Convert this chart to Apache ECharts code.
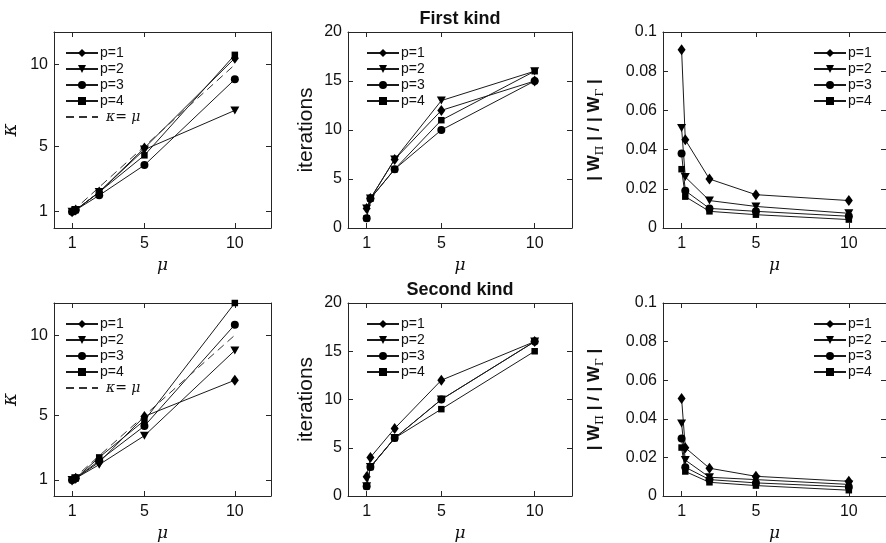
<!DOCTYPE html>
<html><head><meta charset="utf-8">
<script src="https://cdn.jsdelivr.net/npm/echarts@6/dist/echarts.min.js"></script>
<style>html,body{margin:0;padding:0;background:#fff}#c{width:886px;height:543px}</style>
</head><body><div id="c"></div><script>
// ---- data ----
const mu = [1, 1.2, 2.5, 5, 10];
const pNames = ['p=1', 'p=2', 'p=3', 'p=4'];
const refName = 'κ= μ';
const muTicks = [1, 5, 10];
const kappaTicks = [1, 5, 10];
const titles = ['First kind', 'Second kind'];

// First kind
const kappaFirst_p1 = [1, 1.1, 2.2, 4.9, 10.4];
const kappaFirst_p2 = [1, 1.1, 2.2, 4.8, 7.2];
const kappaFirst_p3 = [1, 1.1, 2.0, 3.85, 9.1];
const kappaFirst_p4 = [1, 1.1, 2.2, 4.45, 10.6];
const iterFirst_p1 = [2, 3, 7, 12, 15];
const iterFirst_p2 = [2, 3, 7, 13, 16];
const iterFirst_p3 = [1, 3, 6, 10, 15];
const iterFirst_p4 = [1, 3, 6, 11, 16];
const ratioFirst_p1 = [0.091, 0.045, 0.025, 0.017, 0.014];
const ratioFirst_p2 = [0.051, 0.026, 0.014, 0.011, 0.0075];
const ratioFirst_p3 = [0.038, 0.019, 0.010, 0.0085, 0.006];
const ratioFirst_p4 = [0.030, 0.016, 0.0085, 0.0068, 0.0043];

// Second kind
const kappaSecond_p1 = [1, 1.1, 2.1, 4.95, 7.2];
const kappaSecond_p2 = [1, 1.1, 1.95, 3.75, 9.05];
const kappaSecond_p3 = [1, 1.1, 2.2, 4.35, 10.65];
const kappaSecond_p4 = [1, 1.1, 2.4, 4.7, 12.0];
const iterSecond_p1 = [2, 4, 7, 12, 16];
const iterSecond_p2 = [1, 3, 6, 10, 16];
const iterSecond_p3 = [1, 3, 6, 10, 16];
const iterSecond_p4 = [1, 3, 6, 9, 15];
const ratioSecond_p1 = [0.0505, 0.025, 0.0144, 0.0102, 0.0076];
const ratioSecond_p2 = [0.0376, 0.0186, 0.0097, 0.0085, 0.006];
const ratioSecond_p3 = [0.0298, 0.0149, 0.0085, 0.0068, 0.0047];
const ratioSecond_p4 = [0.0251, 0.0127, 0.0071, 0.0054, 0.003];

const refLine = mu.slice(); // kappa = mu

// ---- layout / style ----
const FONT = '"Liberation Sans", Arial, Helvetica, sans-serif';
const SERIF = '"DejaVu Serif", "Liberation Serif", serif';
const AX = '#262626';
const colLeft = [48, 348, 663];
const colW = [223, 224, 224];
const rowTop = [32, 303];
const rowH = [196, 197];

const symbols = [
  {symbol: 'diamond', size: [8, 11], rotate: 0},
  {symbol: 'triangle', size: [9, 8], rotate: 180},
  {symbol: 'circle', size: 8, rotate: 0},
  {symbol: 'rect', size: 6.5, rotate: 0}
];

const panels = [
  {row: 0, col: 0, kind: 'kappa', data: [kappaFirst_p1, kappaFirst_p2, kappaFirst_p3, kappaFirst_p4]},
  {row: 0, col: 1, kind: 'iter', data: [iterFirst_p1, iterFirst_p2, iterFirst_p3, iterFirst_p4]},
  {row: 0, col: 2, kind: 'ratio', data: [ratioFirst_p1, ratioFirst_p2, ratioFirst_p3, ratioFirst_p4]},
  {row: 1, col: 0, kind: 'kappa', data: [kappaSecond_p1, kappaSecond_p2, kappaSecond_p3, kappaSecond_p4]},
  {row: 1, col: 1, kind: 'iter', data: [iterSecond_p1, iterSecond_p2, iterSecond_p3, iterSecond_p4]},
  {row: 1, col: 2, kind: 'ratio', data: [ratioSecond_p1, ratioSecond_p2, ratioSecond_p3, ratioSecond_p4]}
];

const grid = [], xAxis = [], yAxis = [], series = [], legend = [], title = [];

function tickCfg(custom) {
  const t = {inside: true, length: 5, lineStyle: {color: AX, width: 1}};
  if (custom) t.customValues = custom;
  return t;
}

panels.forEach((p, gi) => {
  const left = colLeft[p.col], top = rowTop[p.row];
  grid.push({left: left, top: top, width: colW[p.col], height: rowH[p.row], containLabel: false});
  const lab = {fontSize: 16, color: '#111', fontFamily: FONT, margin: 8};
  xAxis.push({
    type: 'value', gridIndex: gi, min: 0, max: 12, position: 'bottom',
    axisLine: {onZero: false, lineStyle: {color: AX, width: 1}},
    axisTick: tickCfg(muTicks),
    axisLabel: Object.assign({customValues: muTicks}, lab),
    splitLine: {show: false},
    name: 'μ', nameLocation: 'middle', nameGap: 29,
    nameTextStyle: {fontFamily: SERIF, fontStyle: 'italic', fontSize: 17, color: '#111'}
  });
  xAxis.push({
    type: 'value', gridIndex: gi, min: 0, max: 12, position: 'top',
    axisLine: {onZero: false, lineStyle: {color: AX, width: 1}},
    axisTick: tickCfg(muTicks), axisLabel: {show: false}, splitLine: {show: false}
  });
  let yBase = {type: 'value', gridIndex: gi, splitLine: {show: false},
    axisLine: {onZero: false, show: true, lineStyle: {color: AX, width: 1}}};
  let yMain, ySec;
  const ylab = {fontSize: 16, color: '#111', fontFamily: FONT, margin: 6};
  if (p.kind === 'kappa') {
    yMain = Object.assign({}, yBase, {min: 0, max: 12, position: 'left',
      axisTick: tickCfg(kappaTicks), axisLabel: Object.assign({customValues: kappaTicks}, ylab),
      name: 'κ', nameLocation: 'middle', nameGap: 33,
      nameTextStyle: {fontFamily: SERIF, fontStyle: 'italic', fontSize: 20, color: '#111'}});
    ySec = Object.assign({}, yBase, {min: 0, max: 12, position: 'right',
      axisTick: tickCfg(kappaTicks), axisLabel: {show: false}});
  } else if (p.kind === 'iter') {
    yMain = Object.assign({}, yBase, {min: 0, max: 20, interval: 5, position: 'left',
      axisTick: tickCfg(), axisLabel: ylab,
      name: 'iterations', nameLocation: 'middle', nameGap: 31,
      nameTextStyle: {fontFamily: FONT, fontSize: 21, color: '#111'}});
    ySec = Object.assign({}, yBase, {min: 0, max: 20, interval: 5, position: 'right',
      axisTick: tickCfg(), axisLabel: {show: false}});
  } else {
    yMain = Object.assign({}, yBase, {min: 0, max: 0.1, interval: 0.02, position: 'left',
      axisTick: tickCfg(), axisLabel: ylab,
      name: '{a|| W}{s|Π}{a| | / | W}{s|Γ}{a| |}', nameLocation: 'middle', nameGap: 57,
      nameTextStyle: {color: '#111', rich: {
        a: {fontFamily: FONT, fontWeight: 'bold', fontSize: 17, lineHeight: 24, verticalAlign: 'middle', color: '#111'},
        s: {fontFamily: SERIF, fontSize: 11, lineHeight: 24, verticalAlign: 'bottom', color: '#111'}
      }}});
    ySec = Object.assign({}, yBase, {min: 0, max: 0.1, interval: 0.02, position: 'right',
      axisTick: tickCfg(), axisLabel: {show: false}});
  }
  yAxis.push(yMain, ySec);

  p.data.forEach((vals, k) => {
    series.push({
      type: 'line', name: pNames[k], xAxisIndex: gi * 2, yAxisIndex: gi * 2,
      data: mu.map((m, i) => [m, vals[i]]),
      symbol: symbols[k].symbol, symbolSize: symbols[k].size, symbolRotate: symbols[k].rotate,
      showAllSymbol: true, silent: true, animation: false,
      lineStyle: {color: '#1a1a1a', width: 1},
      itemStyle: {color: '#000', borderWidth: 0}
    });
  });
  const legData = pNames.map(n => ({name: n}));
  if (p.kind === 'kappa') {
    series.push({
      type: 'line', name: refName, xAxisIndex: gi * 2, yAxisIndex: gi * 2,
      data: mu.map((m, i) => [m, refLine[i]]),
      symbol: 'none', silent: true, animation: false,
      lineStyle: {color: '#333', width: 1, type: [8, 5]},
      itemStyle: {color: '#333'}
    });
    legData.push({name: refName, itemStyle: {color: 'rgba(0,0,0,0)', borderWidth: 0, opacity: 0},
      textStyle: {fontFamily: SERIF, fontStyle: 'italic', fontSize: 14, padding: [0, 0, 0, 3]}});
  }
  const legLeft = p.col === 0 ? 65 : (p.col === 1 ? 366 : 813);
  legend.push({
    orient: 'vertical', left: legLeft, top: top + 14, padding: 0,
    itemWidth: 32, itemHeight: 10, itemGap: 2, selectedMode: false,
    data: legData,
    textStyle: {fontSize: 14, color: '#111', fontFamily: FONT, lineHeight: 14, padding: [0, 0, 0, -3]}
  });
  if (p.col === 1) {
    title.push({
      text: titles[p.row], left: left + colW[p.col] / 2, top: top - 22, textAlign: 'center',
      padding: 0,
      textStyle: {fontFamily: FONT, fontWeight: 'bold', fontSize: 18, color: '#111'}
    });
  }
});

const chart = echarts.init(document.getElementById('c'), null, {renderer: 'canvas'});
chart.setOption({animation: false, backgroundColor: '#fff', title, grid, xAxis, yAxis, legend, series});
</script></body></html>
